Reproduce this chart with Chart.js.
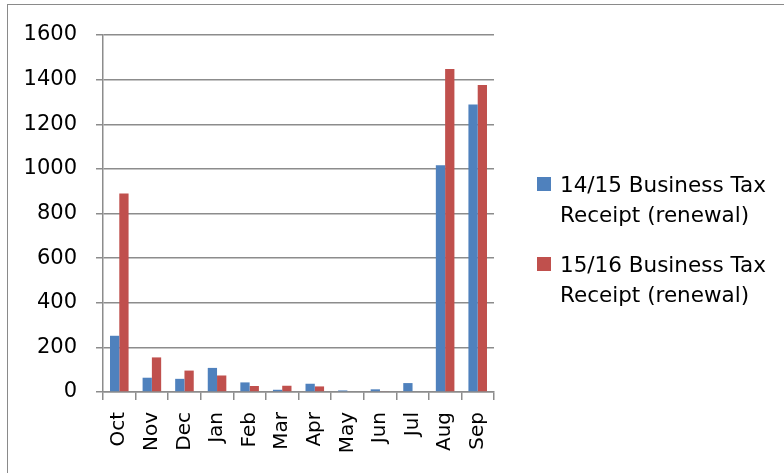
<!DOCTYPE html>
<html>
<head>
<meta charset="utf-8">
<script src="https://cdn.jsdelivr.net/npm/chart.js@4"></script>
<style>
  html, body { margin: 0; padding: 0; background: #fff; overflow: hidden; }
  #wrap { position: relative; width: 784px; height: 473px; }
  #frame { position: absolute; left: 7px; top: 4px; width: 900px; height: 600px;
           border-left: 1.5px solid #8a8a8a; border-top: 1.5px solid #8a8a8a; }
  #briChart { position: absolute; left: 0; top: 0; }
  #legend { position: absolute; left: 537px; top: 170px; font-family: "DejaVu Sans", sans-serif;
            font-size: 21.5px; line-height: 30px; color: #000; }
  .item { position: relative; padding-left: 23px; margin-bottom: 20px; }
  .box { position: absolute; left: 0; top: 7px; width: 14px; height: 14px; }
</style>
</head>
<body>
<div id="wrap">
  <div id="frame"></div>
  <canvas id="briChart" width="784" height="473"></canvas>
  <div id="legend"></div>
</div>
<script>
// Data
const months = ["Oct", "Nov", "Dec", "Jan", "Feb", "Mar", "Apr", "May", "Jun", "Jul", "Aug", "Sep"];
const receipts1415 = [252, 64, 59, 108, 43, 10, 37, 7, 12, 40, 1016, 1288];
const receipts1516 = [890, 155, 96, 74, 27, 28, 25, 0, 3, 0, 1448, 1376];
const seriesNames = ["14/15 Business Tax\nReceipt (renewal)", "15/16 Business Tax\nReceipt (renewal)"];
const seriesColors = ["#4F81BD", "#C0504D"];

const gridColor = "#8c8c8c";
const yFont = { family: "'DejaVu Sans', sans-serif", size: 21 };
const xFont = { family: "'DejaVu Sans', sans-serif", size: 20 };

const ctx = document.getElementById("briChart").getContext("2d");

new Chart(ctx, {
  type: "bar",
  data: {
    labels: months,
    datasets: [
      {
        label: seriesNames[0],
        data: receipts1415,
        backgroundColor: seriesColors[0],
      },
      {
        label: seriesNames[1],
        data: receipts1516,
        backgroundColor: seriesColors[1],
      },
    ],
  },
  options: {
    responsive: false,
    animation: false,
    devicePixelRatio: 1,
    categoryPercentage: 0.57,
    barPercentage: 1.0,
    layout: {
      padding: { left: 0, top: 35, right: 290, bottom: 0 },
    },
    plugins: {
      legend: { display: false },
      tooltip: { enabled: false },
    },
    scales: {
      x: {
        grid: {
          drawOnChartArea: false,
          drawTicks: true,
          tickLength: 8,
          color: gridColor,
          lineWidth: 1.5,
        },
        border: { color: gridColor, width: 1.5 },
        ticks: {
          color: "#000",
          font: xFont,
          minRotation: 90,
          maxRotation: 90,
          padding: 12,
        },
        afterFit: (scale) => {
          scale.height = 81;
        },
      },
      y: {
        min: 0,
        max: 1600,
        grid: {
          color: gridColor,
          lineWidth: 1.5,
          tickLength: 7,
        },
        border: { color: gridColor, width: 1.5 },
        ticks: {
          stepSize: 200,
          color: "#000",
          font: yFont,
          padding: 19,
          callback: (value) => String(value),
        },
        afterFit: (scale) => {
          scale.width = 103;
        },
      },
    },
  },
});

// Legend as HTML so the labels can wrap like the original
const legendEl = document.getElementById("legend");
seriesNames.forEach((name, i) => {
  const item = document.createElement("div");
  item.className = "item";
  const box = document.createElement("span");
  box.className = "box";
  box.style.background = seriesColors[i];
  item.appendChild(box);
  name.split("\n").forEach((line) => {
    const d = document.createElement("div");
    d.textContent = line;
    item.appendChild(d);
  });
  legendEl.appendChild(item);
});
</script>
</body>
</html>
